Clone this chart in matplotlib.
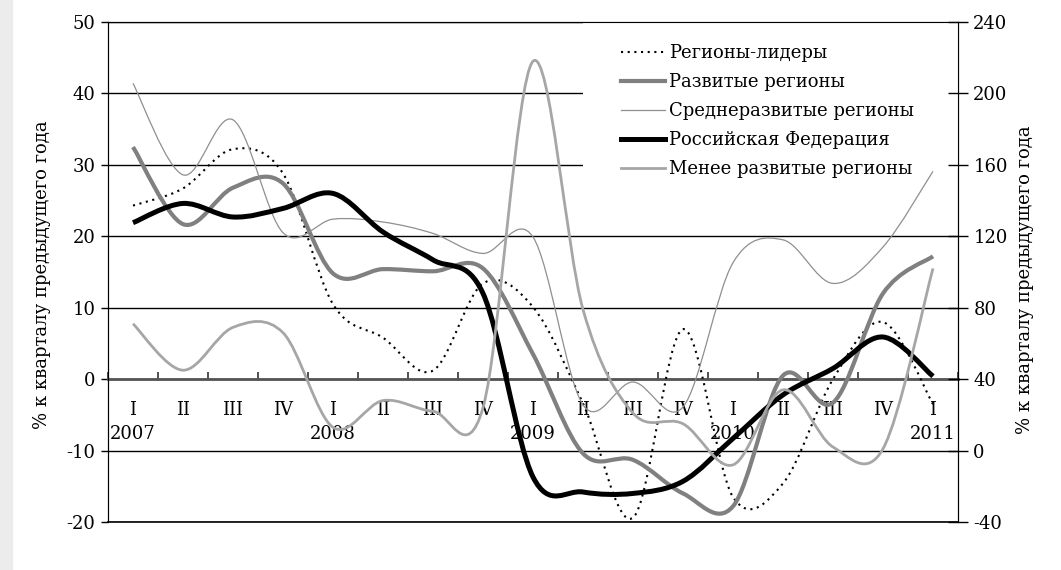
import matplotlib
matplotlib.use("Agg")
import matplotlib.pyplot as plt
import numpy as np
from matplotlib.lines import Line2D
from matplotlib.patches import PathPatch, Rectangle
from matplotlib.path import Path

plt.rcParams["font.family"] = ["DejaVu Serif"]
plt.rcParams["font.size"] = 13
plt.rcParams["axes.unicode_minus"] = False

# Quarters I 2007 ... I 2011
quarter_labels = ["I\n2007", "II", "III", "IV",
                  "I\n2008", "II", "III", "IV",
                  "I\n2009", "II", "III", "IV",
                  "I\n2010", "II", "III", "IV",
                  "I\n2011"]

# left axis, %
leaders = [24.3, 26.7, 32.2, 28.8, 10.5, 5.8, 1.2, 13.4, 10.1, -3.4, -19.4, 7.0, -16.5, -14.6, 0.0, 8.0, -3.5]
developed = [32.5, 21.7, 26.8, 27.4, 14.8, 15.4, 15.1, 15.5, 3.5, -10.4, -11.3, -16.0, -17.8, 0.5, -3.3, 12.0, 17.2]
mid_developed = [41.4, 28.6, 36.3, 20.5, 22.4, 22.0, 20.4, 17.6, 19.9, -3.6, -0.4, -3.9, 16.3, 19.5, 13.4, 18.5, 29.1]
russia = [21.9, 24.6, 22.7, 23.9, 26.0, 20.6, 16.7, 12.0, -13.7, -15.8, -16.0, -14.3, -8.3, -2.2, 1.5, 5.9, 0.4]
# right axis, %
less_developed = [71, 45, 69, 66, 13, 28, 22, 24, 218, 79, 21, 15, -8, 34, 2, 1, 102]

names = ["Регионы-лидеры", "Развитые регионы", "Среднеразвитые регионы",
         "Российская Федерация", "Менее развитые регионы"]


def smooth_path(y):
    # Excel-style smoothed line: cubic Bezier through every point
    x = np.arange(len(y), dtype=float)
    y = np.asarray(y, dtype=float)
    pts = np.column_stack([x, y])
    ext = np.vstack([pts[0], pts, pts[-1]])
    verts = [pts[0]]
    codes = [Path.MOVETO]
    for i in range(len(pts) - 1):
        p0, p1, p2, p3 = ext[i], ext[i + 1], ext[i + 2], ext[i + 3]
        verts += [p1 + (p2 - p0) / 6, p2 - (p3 - p1) / 6, p2]
        codes += [Path.CURVE4] * 3
    return Path(verts, codes)


fig = plt.figure(figsize=(10.61, 5.70), dpi=100)
ax = fig.add_axes([108 / 1061, 48 / 570, 850 / 1061, 500 / 570])
fig.patches.append(Rectangle((0, 0), 0.011, 1, transform=fig.transFigure,
                             color="#ececec", zorder=0))

ax.set_xlim(-0.5, len(quarter_labels) - 0.5)
ax.set_ylim(-20, 50)
ax.set_yticks(np.arange(-20, 51, 10))
ax.yaxis.grid(True, color="black", lw=1.0)
ax.set_axisbelow(True)
ax.tick_params(axis="y", direction="out", length=5, width=1, pad=4, labelsize=13)

ax.spines["bottom"].set_position(("data", 0))
ax.spines["bottom"].set_color("#555555")
ax.spines["bottom"].set_linewidth(2)
ax.set_xticks(np.arange(-0.5, len(quarter_labels), 1.0))
ax.set_xticklabels([])
ax.tick_params(axis="x", which="major", direction="in", length=5, width=1.2, color="#333333")
ax.set_xticks(np.arange(len(quarter_labels)), minor=True)
ax.set_xticklabels(quarter_labels, minor=True)
ax.tick_params(axis="x", which="minor", length=0, pad=16, labelsize=13)
for t in ax.get_xticklabels(minor=True):
    t.set_linespacing(1.4)

styles = [
    dict(color="black", lw=1.5, ls=(0, (1.0, 2.2))),
    dict(color="#808080", lw=3.0, ls="-"),
    dict(color="#8f8f8f", lw=0.9, ls="-"),
    dict(color="black", lw=3.6, ls="-"),
    dict(color="#a6a6a6", lw=2.0, ls="-"),
]

left_series = [leaders, developed, mid_developed, russia]
for data, st in zip(left_series, styles[:4]):
    ax.add_patch(PathPatch(smooth_path(data), fill=False, edgecolor=st["color"],
                           lw=st["lw"], linestyle=st["ls"], zorder=3,
                           capstyle="butt", joinstyle="round"))

ax2 = ax.twinx()
ax2.set_ylim(-40, 240)
ax2.set_yticks(np.arange(-40, 241, 40))
ax2.tick_params(axis="y", direction="inout", length=14, width=1, pad=4, labelsize=13)
st = styles[4]
ax2.add_patch(PathPatch(smooth_path(less_developed), fill=False, edgecolor=st["color"],
                        lw=st["lw"], zorder=3))

# white legend area
ax2.add_patch(Rectangle((0.559, 0.708), 0.441, 0.292, transform=ax2.transAxes,
                        facecolor="white", edgecolor="none", zorder=1))

handles = [Line2D([], [], color=s["color"], lw=s["lw"], ls=s["ls"]) for s in styles]
ax2.legend(handles, names, loc="upper left", bbox_to_anchor=(0.604, 0.955),
           frameon=False, fontsize=13, handlelength=2.4, handletextpad=0.25,
           labelspacing=0.6, borderpad=0, borderaxespad=0)

for a in (ax, ax2):
    for s in ("left", "right", "top"):
        a.spines[s].set_color("black")
ax2.spines["bottom"].set_color("black")
ax2.spines["bottom"].set_linewidth(1.2)

label = "% к кварталу предыдущего года"
fig.text(42 / 1061, 1 - 275 / 570, label, rotation=90, ha="center", va="center", fontsize=13)
fig.text(1025 / 1061, 1 - 280 / 570, label, rotation=90, ha="center", va="center", fontsize=13)

fig.savefig("out.png", dpi=100)
